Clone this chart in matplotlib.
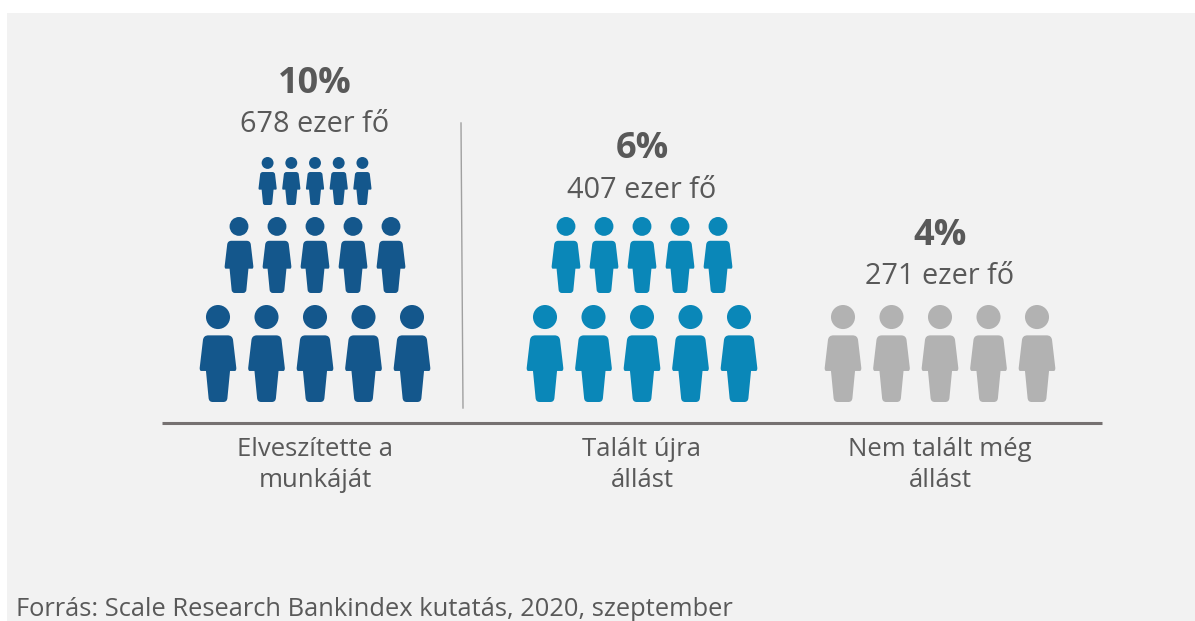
from matplotlib import pyplot as plt
from matplotlib.patches import PathPatch, Rectangle
from matplotlib.path import Path
from matplotlib.transforms import Affine2D

labels = ['Elveszítette a\nmunkáját', 'Talált újra\nállást', 'Nem talált még\nállást']
percents = [10, 6, 4]
people = ['678 ezer fő', '407 ezer fő', '271 ezer fő']
icon_rows = [3, 2, 1]
icons_per_row = 5
colors = ['#14578c', '#0a87b8', '#b2b2b2']
source = 'Forrás: Scale Research Bankindex kutatás, 2020, szeptember'

# layout in pixels of the picture
centers = [315, 642, 940]
row_heights = [97, 76, 48]
row_steps = [48.5, 38, 23.7]
row_bottoms = [402, 293, 205]
percent_y = [84, 149, 236]
people_y = [125, 190, 276]
text_color = '#595959'


def person_path():
    head = Path.circle((0, 0.876), 0.124)
    verts = [
        (-0.124, 0.32), (-0.175, 0.32), (-0.189, 0.32), (-0.189, 0.35),
        (-0.155, 0.64), (-0.148, 0.687), (-0.10, 0.687),
        (0.10, 0.687), (0.148, 0.687), (0.155, 0.64),
        (0.189, 0.35), (0.189, 0.32), (0.175, 0.32),
        (0.124, 0.32), (0.097, 0.04), (0.093, 0), (0.055, 0),
        (-0.055, 0), (-0.093, 0), (-0.097, 0.04), (-0.124, 0.32),
    ]
    codes = [Path.MOVETO, Path.LINETO, Path.CURVE3, Path.CURVE3,
             Path.LINETO, Path.CURVE3, Path.CURVE3,
             Path.LINETO, Path.CURVE3, Path.CURVE3,
             Path.LINETO, Path.CURVE3, Path.CURVE3,
             Path.LINETO, Path.LINETO, Path.CURVE3, Path.CURVE3,
             Path.LINETO, Path.CURVE3, Path.CURVE3, Path.LINETO]
    return Path.make_compound_path(head, Path(verts, codes))


plt.rcParams['font.family'] = ['Open Sans', 'Noto Sans', 'DejaVu Sans']

fig = plt.figure(figsize=(11.95, 6.21), dpi=100, facecolor='white')
ax = fig.add_axes([0, 0, 1, 1])
ax.set_xlim(0, 1195)
ax.set_ylim(621, 0)
ax.axis('off')

ax.add_patch(Rectangle((7, 13), 1188, 608, facecolor='#f2f2f2', edgecolor='none'))

icon = person_path()
for g, cx in enumerate(centers):
    for r in range(icon_rows[g]):
        h = row_heights[r]
        for i in range(icons_per_row):
            x = cx + (i - (icons_per_row - 1) / 2) * row_steps[r]
            t = Affine2D().scale(h, -h).translate(x, row_bottoms[r])
            ax.add_patch(PathPatch(icon.transformed(t), facecolor=colors[g], edgecolor='none'))
    ax.text(cx, percent_y[g], f'{percents[g]}%', ha='center', va='center', fontsize=26,
            fontweight='bold', color=text_color)
    ax.text(cx, people_y[g], people[g], ha='center', va='center', fontsize=20.8, color=text_color)
    ax.text(cx, 465, labels[g], ha='center', va='center', fontsize=18.5, color=text_color,
            linespacing=1.32)

ax.plot([162, 1102], [423, 423], color='#767171', lw=2.2, solid_capstyle='butt')
ax.plot([461, 463], [123, 408], color='#a0a0a0', lw=1)

ax.text(16, 609, source, ha='left', va='center', fontsize=18.4, color=text_color)

fig.savefig('out.png', dpi=100)
